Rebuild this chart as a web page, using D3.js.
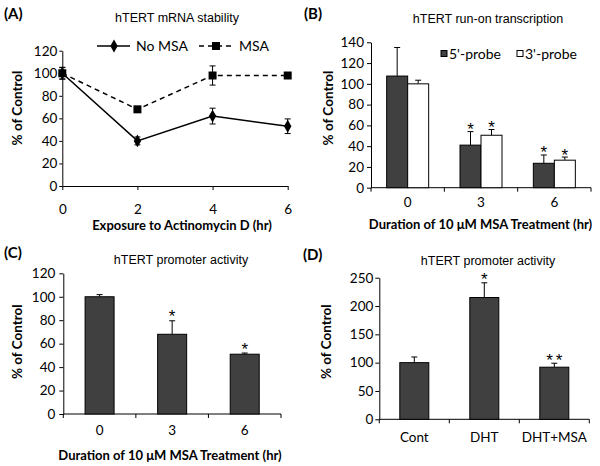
<!DOCTYPE html>
<html><head><meta charset="utf-8">
<script src="https://cdn.jsdelivr.net/npm/d3@7"></script>
<style>
body{margin:0;background:#fff;}
svg{display:block;}
.tick text{font-family:Lato, "Open Sans", sans-serif;font-size:13.5px;fill:#000;}
.tick line, .domain{stroke:#000;}
</style>
</head><body>
<svg id="chart" width="600" height="466"></svg>
<script>
// ---- Data ----
// Panel A: hTERT mRNA stability
const timesA = [0, 2, 4, 6];
const noMSA = [100, 40, 62, 53];
const noMSAErr = [5, 3.5, 7, 6.5];
const withMSA = [100, 68, 98, 98];
const withMSAErr = [5.3, 2.5, 8.5, 1];
const yTicksA = [0, 20, 40, 60, 80, 100, 120];

// Panel B: run-on transcription
const catsB = ["0", "3", "6"];
const probe5 = [107.5, 41, 23.5];
const probe5Err = [27.5, 13, 8];
const probe3 = [100, 50.5, 26.5];
const probe3Err = [3.5, 5.5, 3];
const sig5 = ["", "*", "*"];
const sig3 = ["", "*", "*"];
const yTicksB = [0, 20, 40, 60, 80, 100, 120, 140];

// Panel C: promoter activity vs MSA time
const catsC = ["0", "3", "6"];
const promC = [100, 68, 51];
const promCErr = [1.8, 11.5, 1];
const sigC = ["", "*", "*"];
const yTicksC = [0, 20, 40, 60, 80, 100, 120];

// Panel D: promoter activity with DHT
const catsD = ["Cont", "DHT", "DHT+MSA"];
const promD = [100, 215, 92];
const promDErr = [10, 26, 7];
const sigD = ["", "*", "**"];
const yTicksD = [0, 50, 100, 150, 200, 250];

const svg = d3.select("#chart");
svg.append("rect").attr("width",600).attr("height",466).attr("fill","#fff");

const CAL = "Lato, 'Open Sans', sans-serif";
const ARI = "'Liberation Sans', Arial, sans-serif";
const DARK = "#404040";

function label(txt, x, y, opts={}) {
  return svg.append("text").attr("x", x).attr("y", y).text(txt)
    .attr("font-family", opts.family || CAL)
    .attr("font-size", opts.size || 13.5)
    .attr("font-weight", opts.bold ? "bold" : "normal")
    .attr("text-anchor", opts.anchor || "middle")
    .attr("fill", "#000");
}
function yTitle(x, y) {
  svg.append("text").attr("transform", `translate(${x},${y}) rotate(-90)`)
    .attr("dy", "0.35em").attr("text-anchor", "middle")
    .attr("font-family", CAL).attr("font-size", 13.5).attr("font-weight", "bold")
    .text("% of Control");
}
function yAxis(y, x0, ticks, size, pad) {
  const g = svg.append("g").attr("transform", `translate(${x0},0)`)
    .call(d3.axisLeft(y).tickValues(ticks).tickSize(size).tickSizeOuter(0).tickPadding(pad));
  return g;
}

// ---------- Panel A ----------
{
  const x = d3.scaleLinear().domain([0, 6]).range([62.3, 287.7]);
  const y = d3.scaleLinear().domain([0, 120]).range([186, 50.7]);
  yAxis(y, 62.3, yTicksA, 3, 2);
  svg.append("g").attr("transform", "translate(0,186)")
    .call(d3.axisBottom(x).tickValues(timesA).tickFormat(d3.format("d")).tickSize(4).tickSizeOuter(0).tickPadding(14));
  label("(A)", 4, 19, {bold: true, size: 15, anchor: "start"});
  label("hTERT mRNA stability", 177, 22, {family: ARI, size: 12.5});
  label("Exposure to Actinomycin D (hr)", 182, 230, {bold: true, size: 13});
  yTitle(17.5, 108);

  const series = [
    {v: withMSA, e: withMSAErr, dash: "5,4", marker: "square"},
    {v: noMSA, e: noMSAErr, dash: null, marker: "diamond"}
  ];
  series.forEach(s => {
    const pts = timesA.map((t, i) => [x(t), y(s.v[i])]);
    svg.append("path").attr("d", d3.line()(pts)).attr("fill", "none")
      .attr("stroke", "#000").attr("stroke-width", 1.5)
      .attr("stroke-dasharray", s.dash);
    timesA.forEach((t, i) => {
      const cx = x(t), top = y(s.v[i] + s.e[i]), bot = y(s.v[i] - s.e[i]);
      svg.append("path").attr("d", `M${cx},${top}V${bot}M${cx-3},${top}H${cx+3}M${cx-3},${bot}H${cx+3}`)
        .attr("stroke", "#000").attr("stroke-width", 1).attr("fill", "none");
    });
    const sym = s.marker === "square" ? d3.symbolSquare : d3.symbolDiamond;
    const sz = s.marker === "square" ? 64 : 48;
    svg.append("g").selectAll("path").data(timesA).join("path")
      .attr("transform", (t, i) => `translate(${x(t)},${y(s.v[i])})`)
      .attr("d", d3.symbol(sym, sz)).attr("fill", "#000");
  });
  // legend
  const ly = 46;
  svg.append("line").attr("x1", 97).attr("x2", 130).attr("y1", ly).attr("y2", ly)
    .attr("stroke", "#000").attr("stroke-width", 1.5);
  svg.append("path").attr("transform", `translate(114,${ly})`).attr("d", d3.symbol(d3.symbolDiamond, 48)).attr("fill", "#000");
  label("No MSA", 136, ly + 5, {anchor: "start", size: 14});
  svg.append("line").attr("x1", 199).attr("x2", 233).attr("y1", ly).attr("y2", ly)
    .attr("stroke", "#000").attr("stroke-width", 1.5).attr("stroke-dasharray", "5,4");
  svg.append("path").attr("transform", `translate(216,${ly})`).attr("d", d3.symbol(d3.symbolSquare, 64)).attr("fill", "#000");
  label("MSA", 239, ly + 5, {anchor: "start", size: 14});
}

// generic bar panel helper
function barPanel(cfg) {
  const x = d3.scaleBand().domain(cfg.cats).range([cfg.x0, cfg.x1]);
  const y = d3.scaleLinear().domain([0, cfg.ymax]).range([cfg.y0, cfg.y1]);
  return {x, y};
}
function errUp(cx, v, e, y) {
  const base = y(v), top = y(v + e);
  svg.append("path").attr("d", `M${cx},${base}V${top}M${cx-3},${top}H${cx+3}`)
    .attr("stroke", "#000").attr("stroke-width", 1).attr("fill", "none");
}
// asterisk centred at (cx, cy)
function star(txt, cx, cy) {
  label(txt, cx, cy + 9.5, {size: 17, family: ARI}).attr("letter-spacing", txt.length > 1 ? 3 : 0)
    .attr("dx", txt.length > 1 ? 1.5 : 0);
}
function bandAxis(x, y0) {
  const g = svg.append("g").attr("transform", `translate(0,${y0})`);
  g.append("line").attr("x1", x.range()[0]).attr("x2", x.range()[1]).attr("stroke", "#000");
  const bounds = x.domain().map(d => x(d)).concat([x.range()[1]]);
  g.selectAll("line.tk").data(bounds).join("line").attr("class", "tk")
    .attr("x1", d => d).attr("x2", d => d).attr("y1", 0).attr("y2", 4).attr("stroke", "#000");
  return g;
}
function catLabels(x, cats, yy) {
  svg.append("g").selectAll("text").data(cats).join("text")
    .attr("x", d => x(d) + x.bandwidth()/2).attr("y", yy)
    .attr("text-anchor", "middle").attr("font-family", CAL).attr("font-size", 13.5).text(d => d);
}

// ---------- Panel B ----------
{
  const {x, y} = barPanel({cats: catsB, x0: 371, x1: 591, ymax: 140, y0: 187.7, y1: 42.3});
  yAxis(y, 371, yTicksB, 4, 3);
  bandAxis(x, 187.7);
  catLabels(x, catsB, 207);
  label("(B)", 304, 19, {bold: true, size: 15, anchor: "start"});
  label("hTERT run-on transcription", 488, 23, {family: ARI, size: 12.5});
  label("Duration of 10 μM MSA Treatment (hr)", 480.5, 229, {bold: true, size: 13});
  yTitle(328, 108);
  const bw = 21;
  catsB.forEach((c, i) => {
    const cx = x(c) + x.bandwidth()/2;
    errUp(cx - bw/2, probe5[i], probe5Err[i], y);
    errUp(cx + bw/2, probe3[i], probe3Err[i], y);
    svg.append("rect").attr("x", cx - bw).attr("y", y(probe5[i])).attr("width", bw)
      .attr("height", y(0) - y(probe5[i])).attr("fill", DARK).attr("stroke", "#000").attr("stroke-width", 1);
    svg.append("rect").attr("x", cx).attr("y", y(probe3[i])).attr("width", bw)
      .attr("height", y(0) - y(probe3[i])).attr("fill", "#fff").attr("stroke", "#000").attr("stroke-width", 1);
    if (sig5[i]) star(sig5[i], cx - bw/2, y(probe5[i] + probe5Err[i]) - 6);
    if (sig3[i]) star(sig3[i], cx + bw/2, y(probe3[i] + probe3Err[i]) - 6);
  });
  // legend
  svg.append("rect").attr("x", 441).attr("y", 50.5).attr("width", 6).attr("height", 6)
    .attr("fill", DARK).attr("stroke", "#000");
  label("5'-probe", 449, 59, {anchor: "start", size: 14});
  svg.append("rect").attr("x", 517).attr("y", 50.5).attr("width", 6).attr("height", 6)
    .attr("fill", "#fff").attr("stroke", "#000");
  label("3'-probe", 525, 59, {anchor: "start", size: 14});
}

// ---------- Panel C ----------
{
  const {x, y} = barPanel({cats: catsC, x0: 63.3, x1: 281, ymax: 120, y0: 414, y1: 273.3});
  yAxis(y, 63.3, yTicksC, 4, 4);
  bandAxis(x, 414);
  catLabels(x, catsC, 435);
  label("(C)", 4, 258, {bold: true, size: 15, anchor: "start"});
  label("hTERT promoter activity", 181, 263.5, {family: ARI, size: 12.5});
  label("Duration of 10 μM MSA Treatment (hr)", 170, 460, {bold: true, size: 13});
  yTitle(17.5, 341.7);
  const bw = 29;
  catsC.forEach((c, i) => {
    const cx = x(c) + x.bandwidth()/2;
    errUp(cx, promC[i], promCErr[i], y);
    svg.append("rect").attr("x", cx - bw/2).attr("y", y(promC[i])).attr("width", bw)
      .attr("height", y(0) - y(promC[i])).attr("fill", DARK).attr("stroke", "#000");
    if (sigC[i]) star(sigC[i], cx, y(promC[i] + promCErr[i]) - 8);
  });
}

// ---------- Panel D ----------
{
  const {x, y} = barPanel({cats: catsD, x0: 379.3, x1: 589.3, ymax: 250, y0: 419.3, y1: 277.7});
  yAxis(y, 379.3, yTicksD, 4, 2);
  bandAxis(x, 419.3);
  catLabels(x, catsD, 442);
  label("(D)", 303, 260, {bold: true, size: 15, anchor: "start"});
  label("hTERT promoter activity", 488, 265, {family: ARI, size: 12.5});
  yTitle(326.7, 341.7);
  const bw = 29;
  catsD.forEach((c, i) => {
    const cx = x(c) + x.bandwidth()/2;
    errUp(cx, promD[i], promDErr[i], y);
    svg.append("rect").attr("x", cx - bw/2).attr("y", y(promD[i])).attr("width", bw)
      .attr("height", y(0) - y(promD[i])).attr("fill", DARK).attr("stroke", "#000");
    if (sigD[i]) star(sigD[i], cx, y(promD[i] + promDErr[i]) - 7);
  });
}
</script>
</body></html>
